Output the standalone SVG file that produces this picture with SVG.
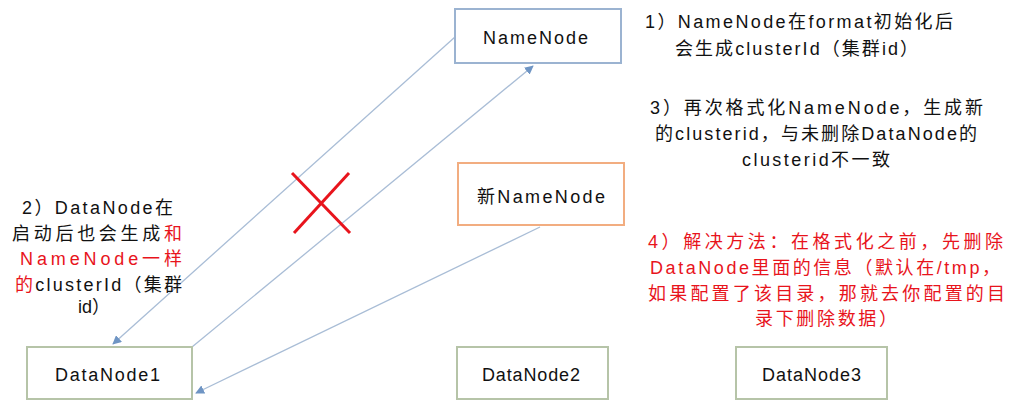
<svg xmlns="http://www.w3.org/2000/svg" width="1013" height="401" viewBox="0 0 1013 401">
<style>
text{font-family:"Liberation Sans","Noto Sans CJK SC",sans-serif;font-size:18px;fill:#111}
.lbl{text-anchor:middle}
.red{fill:#e8141c}
.nn{fill:#fff;stroke:#9bb3d1;stroke-width:2}
.nnn{fill:#fff;stroke:#f2ad80;stroke-width:2}
.dn{fill:#fff;stroke:#b6c4a8;stroke-width:2}
.conn{stroke:#a9bdd6;stroke-width:1.3;fill:none}
</style>
<defs>
<marker id="arr" viewBox="0 0 10 10" refX="9" refY="5" markerWidth="9" markerHeight="9" markerUnits="userSpaceOnUse" orient="auto">
<path d="M0,0 L10,5 L0,10 z" fill="#6f95c4"/>
</marker>
</defs>
<rect width="1013" height="401" fill="#fff"/>
<g id="connectors">
<line class="conn" x1="455" y1="37" x2="113" y2="344" marker-end="url(#arr)"/>
<line class="conn" x1="192" y1="347" x2="533" y2="66" marker-end="url(#arr)"/>
<line class="conn" x1="540" y1="227" x2="196" y2="393" marker-end="url(#arr)"/>
</g>
<g id="cross">
<line x1="292" y1="173" x2="350" y2="233" stroke="#e8141c" stroke-width="3"/>
<line x1="349" y1="173" x2="294" y2="233" stroke="#e8141c" stroke-width="3"/>
</g>
<g id="namenode">
<rect class="nn" x="455" y="9" width="166" height="54"/>
<text class="lbl" x="535.5" y="44" textLength="105">NameNode</text>
</g>
<g id="newnamenode">
<rect class="nnn" x="458" y="163" width="166" height="62"/>
<text class="lbl" x="541" y="203" textLength="128">新NameNode</text>
</g>
<g id="datanode1">
<rect class="dn" x="27" y="347" width="165" height="52"/>
<text class="lbl" x="107.5" y="381" textLength="105">DataNode1</text>
</g>
<g id="datanode2">
<rect class="dn" x="457" y="347" width="151" height="52"/>
<text class="lbl" x="531" y="381" textLength="98">DataNode2</text>
</g>
<g id="datanode3">
<rect class="dn" x="736" y="347" width="151" height="52"/>
<text class="lbl" x="811.5" y="381" textLength="99">DataNode3</text>
</g>
<g id="note1">
<text x="645" y="28" textLength="308">1）NameNode在format初始化后</text>
<text x="675" y="55" textLength="243">会生成clusterId（集群id）</text>
</g>
<g id="note2">
<text x="22" y="214" textLength="151">2）DataNode在</text>
<text x="12" y="240" textLength="170">启动后也会生成<tspan class="red">和</tspan></text>
<text class="red" x="20" y="265" textLength="162">NameNode一样</text>
<text x="15" y="291" textLength="167"><tspan class="red">的</tspan>clusterId（集群</text>
<text x="78" y="313" textLength="32">id）</text>
</g>
<g id="note3">
<text x="650" y="114" textLength="333">3）再次格式化NameNode，生成新</text>
<text x="655" y="140" textLength="322">的clusterid，与未删除DataNode的</text>
<text x="742" y="166" textLength="148">clusterid不一致</text>
</g>
<g id="note4">
<text class="red" x="648" y="248" textLength="355">4）解决方法：在格式化之前，先删除</text>
<text class="red" x="650" y="274" textLength="350">DataNode里面的信息（默认在/tmp，</text>
<text class="red" x="648" y="300" textLength="357">如果配置了该目录，那就去你配置的目</text>
<text class="red" x="755" y="325" textLength="142">录下删除数据）</text>
</g>
</svg>
